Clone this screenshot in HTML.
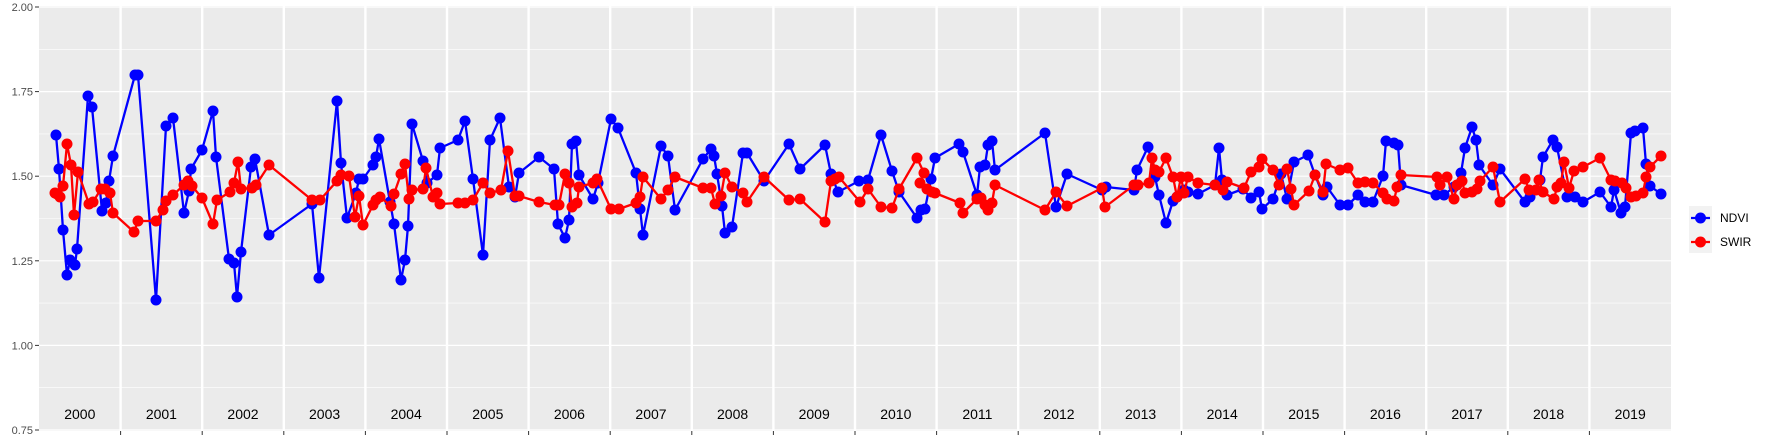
<!DOCTYPE html>
<html><head><meta charset="utf-8"><style>
html,body{margin:0;padding:0;background:#fff;}
svg{display:block;font-family:"Liberation Sans",sans-serif;}
</style></head><body>
<svg id="s" width="1773" height="442" xmlns="http://www.w3.org/2000/svg">
<rect x="39" y="6" width="1632" height="425" fill="#EBEBEB"/>
<g id="grid"></g>
<g id="axes"></g>
<g id="data"></g>
<g>
<rect x="1689" y="206" width="23" height="47" fill="#F2F2F2"/>
<line x1="1691" y1="218" x2="1710" y2="218" stroke="#0000FF" stroke-width="2.3"/>
<circle cx="1700.5" cy="218" r="5.5" fill="#0000FF"/>
<line x1="1691" y1="242" x2="1710" y2="242" stroke="#FF0000" stroke-width="2.3"/>
<circle cx="1700.5" cy="242" r="5.5" fill="#FF0000"/>
<text x="1720" y="222" font-size="12" fill="#000">NDVI</text>
<text x="1720" y="246" font-size="12" fill="#000">SWIR</text>
</g>
</svg>
<script>
const NS="http://www.w3.org/2000/svg";
function el(p,t,a,txt){const e=document.createElementNS(NS,t);for(const k in a)e.setAttribute(k,a[k]);if(txt!==undefined)e.textContent=txt;p.appendChild(e);return e;}
const grid=document.getElementById('grid'),axes=document.getElementById('axes'),data=document.getElementById('data');
const Y=v=>7+(2-v)*338.4;
for(let v=0.875;v<2;v+=0.25)el(grid,'line',{x1:39,x2:1671,y1:Y(v),y2:Y(v),stroke:'#fff','stroke-width':0.6});
for(let i=0;i<6;i++){const v=0.75+i*0.25;el(grid,'line',{x1:39,x2:1671,y1:Y(v),y2:Y(v),stroke:'#fff','stroke-width':1.2});
el(axes,'line',{x1:35,x2:39,y1:Y(v),y2:Y(v),stroke:'#333','stroke-width':1});
el(axes,'text',{x:33,y:Y(v)+4,'font-size':11,fill:'#4D4D4D','text-anchor':'end'},v.toFixed(2));}
const W=81.6;
for(let i=1;i<20;i++){const x=39+W*i;el(grid,'line',{x1:x,x2:x,y1:6,y2:431,stroke:'#fff','stroke-width':2.4});
el(axes,'line',{x1:x,x2:x,y1:431,y2:435,stroke:'#333','stroke-width':1});}
for(let i=0;i<20;i++){el(axes,'text',{x:39+W*i+W/2,y:419,'font-size':14,fill:'#000','text-anchor':'middle'},String(2000+i));}
const B=[[56,135],[59,169],[63,230],[67,275],[70,260],[75,265],[77,249],[88,96],[92,107],[102,211],[106,203],[109,181],[113,156],[135,75],[138,75],[156,300],[166,126],[173,118],[184,213],[189,191],[191,169],[202,150],[213,111],[216,157],[229,259],[234,263],[237,297],[241,252],[251,167],[255,159],[269,235],[312,204],[319,278],[337,101],[341,163],[347,218],[356,193],[359,179],[363,179],[373,165],[376,157],[379,139],
[390,202],[394,224],[401,280],[405,260],[408,226],[412,124],[423,161],[427,183],[437,175],[440,148],[458,140],[465,121],[473,179],[483,255],[490,140],[500,118],[509,187],[515,197],[519,173],[539,157],
[554,169],[558,224],[565,238],[569,220],[572,144],[576,141],[579,175],[593,199],[598,183],[611,119],[618,128],[636,173],[640,209],[643,235],[661,146],[668,156],[675,210],[703,159],[711,149],[714,156],[717,174],[722,206],[725,233],[732,227],[743,153],[747,153],[764,181],[789,144],
[800,169],[825,145],[831,174],[838,192],[859,181],[868,180],[881,135],[892,171],[899,192],[917,218],[921,210],[925,209],[931,179],[935,158],[959,144],[963,152],[977,195],[980,167],[985,165],[988,145],[992,141],[995,170],
[1045,133],[1056,207],[1067,174],[1102,190],[1106,187],[1134,190],[1137,170],[1148,147],[1155,177],[1159,195],[1166,223],[1173,201],[1177,197],[1184,190],[1188,192],[1198,194],[1215,185],[1219,148],[1222,180],[1227,195],[1243,189],[1251,198],[1259,192],[1262,209],[1273,199],[1281,174],
[1287,199],[1294,162],[1308,155],[1315,175],[1323,195],[1327,187],[1340,205],[1348,205],[1358,195],[1365,202],[1373,202],[1383,176],[1386,141],[1394,143],[1398,145],[1401,185],[1436,195],[1444,195],[1454,187],[1461,173],[1465,148],[1472,127],[1476,140],[1479,165],[1493,185],[1500,169],
[1525,202],[1530,197],[1540,180],[1543,157],[1553,140],[1557,147],[1567,197],[1575,197],[1583,202],[1600,192],[1611,207],[1614,190],[1621,213],[1625,207],[1631,133],[1635,131],[1643,128],[1646,164],[1650,186],[1661,194]];
const R=[[55,193],[57,194],[60,197],[63,186],[67,144],[71,165],[74,215],[78,172],[89,204],[93,202],[101,189],[105,189],[110,193],[113,213],[134,232],[138,221],[156,221],[163,210],[166,201],[173,195],[184,185],[188,181],[192,186],[202,198],[213,224],[217,200],[230,192],[234,183],[238,162],[241,189],[252,188],[256,185],[269,165],[312,200],[320,200],[337,181],[341,175],[349,176],[355,217],[359,196],[363,225],[373,205],[376,200],[380,197],[391,206],[394,194],
[401,174],[405,164],[409,199],[412,190],[423,189],[426,168],[433,197],[437,193],[440,204],[458,203],[465,203],[473,200],[483,183],[490,193],[501,190],[508,151],[515,196],[519,196],[539,202],
[555,205],[559,205],[565,174],[569,183],[572,207],[577,203],[579,187],[593,183],[597,179],[611,209],[619,209],[636,203],[640,197],[643,177],[661,199],[668,190],[675,177],[703,188],[711,188],[715,204],[721,196],[725,173],[732,187],[743,193],[747,202],[764,177],[789,200],
[800,199],[825,222],[831,181],[835,179],[839,177],[860,202],[868,189],[881,207],[892,208],[899,189],[917,158],[924,173],[920,183],[927,189],[932,192],[935,193],[960,203],[963,213],[977,199],[981,198],[985,205],[988,210],[992,203],[995,185],
[1045,210],[1056,192],[1067,206],[1102,188],[1105,207],[1134,185],[1138,185],[1149,183],[1152,158],[1155,170],[1159,172],[1166,158],[1173,177],[1177,197],[1181,177],[1184,193],[1188,177],[1198,183],[1215,185],[1223,190],[1227,182],[1244,188],[1251,172],[1259,167],[1262,159],[1273,170],[1279,185],
[1287,169],[1291,189],[1294,205],[1309,191],[1315,175],[1323,192],[1326,164],[1340,170],[1348,168],[1358,183],[1365,182],[1373,183],[1383,193],[1387,199],[1394,201],[1397,187],[1401,175],[1437,177],[1440,185],[1447,177],[1454,199],[1457,185],[1462,181],[1465,193],[1472,192],[1477,189],[1480,181],[1493,167],[1500,202],
[1525,179],[1529,190],[1536,190],[1539,180],[1543,192],[1554,199],[1557,187],[1561,183],[1564,162],[1569,188],[1574,171],[1583,167],[1600,158],[1611,180],[1615,181],[1622,183],[1626,188],[1631,197],[1636,196],[1643,193],[1646,177],[1650,167],[1661,156]];
function series(P,c){el(data,'polyline',{points:P.map(p=>p.join(',')).join(' '),fill:'none',stroke:c,'stroke-width':2.3,'stroke-linejoin':'round'});
P.forEach(p=>el(data,'circle',{cx:p[0],cy:p[1],r:5.5,fill:c}));}
series(B,'#0000FF');series(R,'#FF0000');
</script>
</body></html>
